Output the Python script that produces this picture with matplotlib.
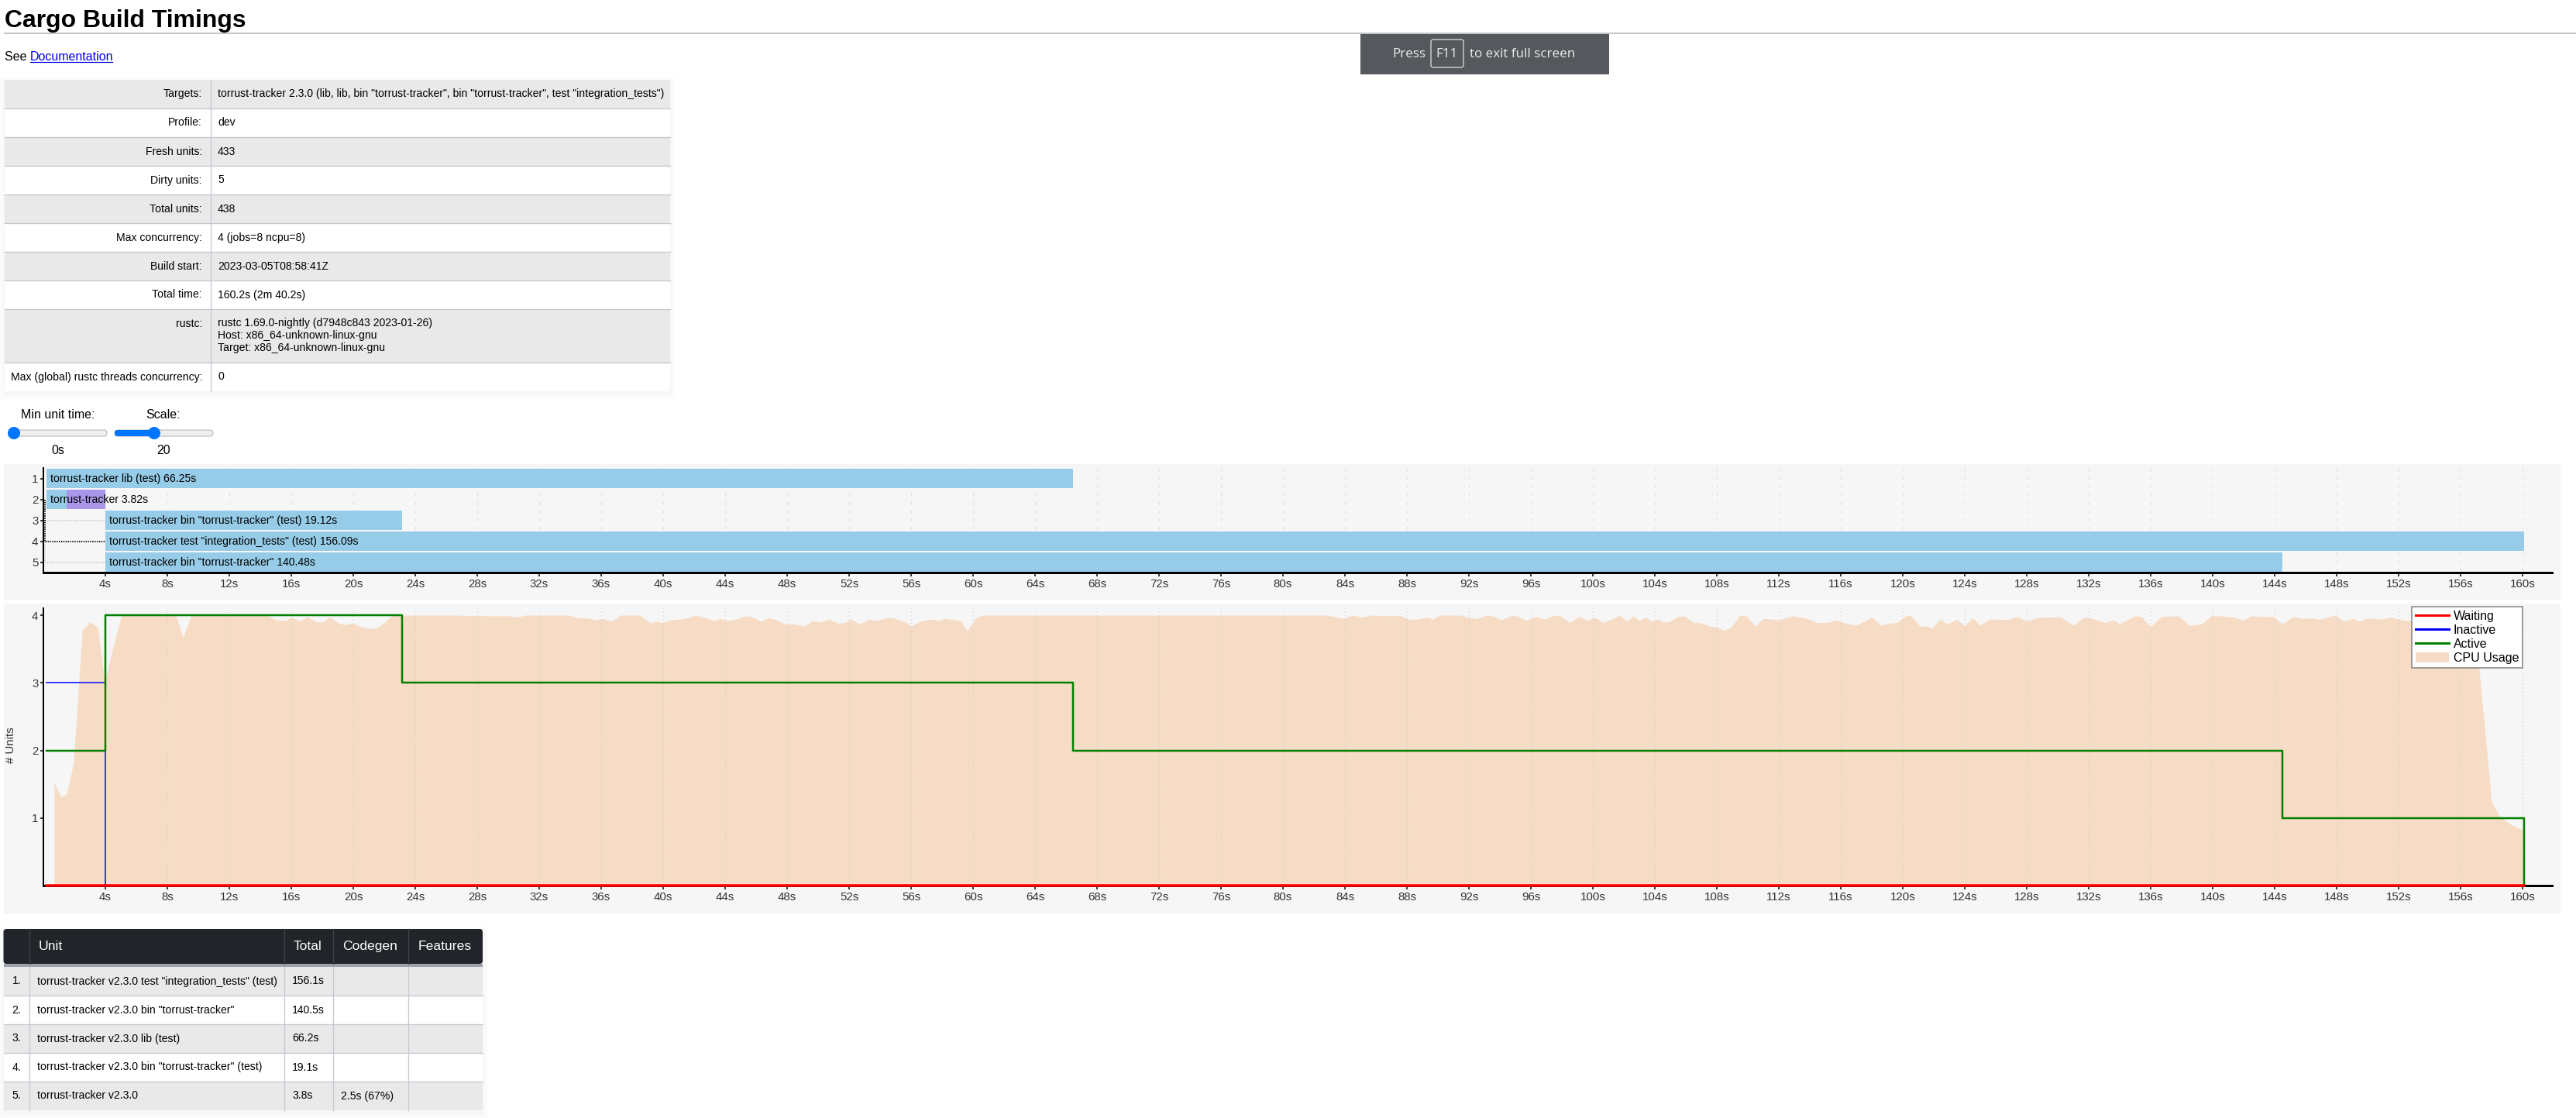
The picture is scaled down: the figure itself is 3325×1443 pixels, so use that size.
import matplotlib
matplotlib.use("Agg")
import matplotlib.pyplot as plt
from matplotlib.lines import Line2D
from matplotlib.patches import Circle, FancyBboxPatch, Patch, Rectangle

W, H = 3325, 1443
DPI = 100
PX = 72 / DPI  # points per pixel

plt.rcParams["font.family"] = ["Liberation Sans", "DejaVu Sans"]

# ---------------- data ----------------
info_labels = [
    "Targets:", "Profile:", "Fresh units:", "Dirty units:", "Total units:",
    "Max concurrency:", "Build start:", "Total time:", "rustc:",
    "Max (global) rustc threads concurrency:",
]
info_values = [
    'torrust-tracker 2.3.0 (lib, lib, bin "torrust-tracker", bin "torrust-tracker", test "integration_tests")',
    "dev", "433", "5", "438", "4 (jobs=8 ncpu=8)", "2023-03-05T08:58:41Z",
    "160.2s (2m 40.2s)",
    "rustc 1.69.0-nightly (d7948c843 2023-01-26)\nHost: x86_64-unknown-linux-gnu\nTarget: x86_64-unknown-linux-gnu",
    "0",
]

unit_names = [
    "torrust-tracker lib (test)",
    "torrust-tracker",
    'torrust-tracker bin "torrust-tracker" (test)',
    'torrust-tracker test "integration_tests" (test)',
    'torrust-tracker bin "torrust-tracker"',
]
unit_start = [0.2, 0.2, 4.02, 4.02, 4.02]
unit_duration = [66.25, 3.82, 19.12, 156.09, 140.48]
codegen_start = [None, 1.52, None, None, None]
dep_parent = 2
dep_children = [3, 4, 5]
dep_highlight = 4

active_t = [0.2, 4.02, 23.14, 66.45, 144.5, 160.11]
active_n = [2, 4, 3, 2, 1, 0]
inactive_t = [0.2, 4.02, 160.11]
inactive_n = [3, 0, 0]
waiting_t = [0.2, 160.11]
waiting_n = [0, 0]

cpu_t = [
    0.7, 1.13, 1.5, 1.94, 2.51, 3.0, 3.51, 3.95, 4.52, 5.04, 8.54, 9.02, 9.54,
    14.4, 15.0, 15.6, 16.0, 16.6, 17.0, 17.6, 18.0, 18.5, 19.0, 19.4, 20.0,
    20.5, 21.0, 21.5, 22.0, 22.5, 26.5, 28.8, 30.0, 30.6, 31.1, 33.9, 34.5,
    35.1, 35.7, 36.1, 36.7, 37.2, 38.5, 39.2, 39.5, 40.0, 40.5, 41.4, 42.1,
    43.3, 43.7, 44.1, 44.7, 45.3, 45.7, 46.3, 46.8, 47.3, 47.9, 48.5, 49.1,
    49.7, 50.1, 50.7, 51.3, 51.7, 52.1, 52.7, 53.3, 53.8, 54.4, 54.8, 55.6,
    56.0, 56.6, 57.2, 57.8, 58.2, 58.8, 59.2, 59.6, 60.2, 60.6, 82.7, 83.1,
    83.9, 84.5, 85.1, 85.7, 87.1, 87.5, 88.1, 88.7, 89.3, 89.7, 90.1, 91.5,
    91.9, 92.5, 93.1, 93.5, 94.1, 94.7, 95.1, 95.7, 96.3, 96.9, 97.5, 97.9,
    98.5, 99.1, 99.7, 100.1, 100.7, 101.3, 101.7, 102.2, 102.6, 103.0, 103.4,
    103.8, 104.2, 104.5, 104.9, 105.5, 105.9, 106.5, 106.9, 107.5, 108.0,
    108.5, 108.9, 109.5, 109.9, 110.5, 111.0, 111.6, 112.0, 112.9, 113.7,
    114.5, 115.1, 115.7, 116.2, 117.0, 118.0, 118.6, 119.1, 119.6, 120.2,
    120.5, 121.1, 121.5, 121.9, 122.4, 122.9, 123.5, 124.0, 124.5, 125.0,
    125.6, 126.1, 126.7, 127.4, 128.0, 128.6, 129.0, 130.2, 131.0, 131.7,
    132.1, 133.1, 133.6, 134.0, 135.0, 135.4, 136.0, 136.7, 137.8, 138.5,
    139.3, 139.9, 140.5, 141.3, 142.0, 142.5, 143.2, 143.9, 144.5, 145.2,
    145.8, 146.3, 146.9, 147.9, 148.5, 149.0, 149.5, 150.0, 150.9, 151.5,
    152.2, 152.7, 153.5, 154.3, 155.2, 156.0, 156.9, 157.2, 158.0, 158.5,
    159.2, 160.0,
]
cpu_units = [
    1.52, 1.31, 1.35, 1.81, 3.78, 3.9, 3.82, 3.0, 3.55, 4.0, 4.0, 3.67, 4.0,
    4.0, 3.93, 3.92, 3.97, 3.91, 3.98, 3.9, 3.9, 3.97, 3.89, 3.86, 3.88,
    3.83, 3.8, 3.81, 3.89, 4.0, 4.0, 3.99, 3.99, 3.97, 4.0, 4.0, 3.96,
    3.96, 3.93, 3.95, 3.91, 4.0, 4.0, 3.88, 3.91, 3.89, 3.93, 3.95, 4.0,
    3.92, 3.95, 3.92, 3.94, 3.99, 3.98, 3.91, 3.96, 3.93, 3.87, 3.87, 3.84,
    3.92, 3.9, 3.94, 3.88, 3.89, 3.94, 3.87, 3.94, 3.92, 3.96, 3.96, 3.9,
    3.84, 3.91, 3.94, 3.92, 3.95, 3.93, 3.92, 3.77, 3.96, 4.0, 4.0, 3.99,
    3.95, 4.0, 3.97, 4.0, 3.99, 4.0, 3.94, 3.94, 3.97, 3.94, 4.0, 4.0,
    3.97, 3.95, 4.0, 3.99, 3.93, 3.99, 3.99, 3.92, 3.98, 3.94, 4.0, 3.99,
    3.89, 3.98, 3.92, 3.97, 3.89, 3.95, 4.0, 3.91, 3.99, 3.92, 3.97,
    3.91, 3.94, 3.9, 3.9, 3.98, 3.99, 3.89, 3.89, 3.84, 3.82,
    3.78, 3.82, 4.0, 3.99, 3.84, 3.95, 3.94, 3.93, 3.99, 3.96,
    3.89, 3.89, 3.93, 3.89, 3.85, 3.97, 3.85, 3.88, 3.89, 3.99,
    4.0, 3.84, 3.84, 3.81, 3.94, 3.87, 3.94, 3.84, 3.96, 3.85,
    3.94, 3.94, 3.93, 3.98, 3.91, 3.96, 3.97, 3.97, 3.85, 3.97,
    3.96, 3.89, 3.93, 3.87, 3.99, 3.98, 3.83, 3.98, 3.99, 3.85,
    3.87, 3.99, 3.99, 3.97, 3.93, 3.99, 3.98, 3.98, 3.87, 3.98,
    3.95, 3.96, 3.94, 4.0, 3.91, 3.95, 3.91, 3.96, 3.94, 3.97,
    3.93, 3.92, 3.94, 3.91, 3.95, 3.92, 3.92, 3.2, 1.24, 1.03,
    0.91, 0.82,
]

rank_units = [
    'torrust-tracker v2.3.0 test "integration_tests" (test)',
    'torrust-tracker v2.3.0 bin "torrust-tracker"',
    "torrust-tracker v2.3.0 lib (test)",
    'torrust-tracker v2.3.0 bin "torrust-tracker" (test)',
    "torrust-tracker v2.3.0",
]
rank_total = ["156.1s", "140.5s", "66.2s", "19.1s", "3.8s"]
rank_codegen = ["", "", "", "", "2.5s (67%)"]
rank_features = ["", "", "", "", ""]
rank_headers = ["", "Unit", "Total", "Codegen", "Features"]

time_ticks = list(range(4, 161, 4))
X_MAX = 161.9

# ---------------- styles ----------------
PANEL = "#f6f6f6"
ROW_GRAY = "#e9e9e9"
BORDER = "#c6c6d4"
BAR = "#96cce8"
CODEGEN = "#aa96e8"
CPU = "#f7dcc5"
TXT = 14 * PX      # 14px body text
TICK = 15 * PX


def px_axes(x0, y0, x1, y1, **kw):
    return fig.add_axes([x0 / W, 1 - y1 / H, (x1 - x0) / W, (y1 - y0) / H], **kw)


def soft_shadow(x, y, w, h):
    for k in range(1, 9):
        page.add_patch(Rectangle((x - k, y - k + 4), w + 2 * k, h + 2 * k,
                                 fc="black", alpha=0.005, ec="none"))


fig = plt.figure(figsize=(W / DPI, H / DPI), dpi=DPI)
page = fig.add_axes([0, 0, 1, 1], zorder=0)
page.set_xlim(0, W)
page.set_ylim(H, 0)
page.axis("off")

# ---------------- header ----------------
page.text(6, 35, "Cargo Build Timings", fontsize=32 * PX, fontweight="bold",
          va="baseline", ha="left")
page.plot([6, W], [43, 43], color="#c4c4c4", lw=2 * PX)
page.text(6, 78, "See ", fontsize=16 * PX, va="baseline")
page.text(39, 78, "Documentation", fontsize=16 * PX, va="baseline",
          color="#0000ee")
page.plot([39, 145], [80, 80], color="#0000ee", lw=1.2 * PX)

# fullscreen notice
page.add_patch(Rectangle((1756, 43), 321, 53, fc="#55585c", ec="none"))
page.add_patch(FancyBboxPatch((1847, 51), 42, 36,
                              boxstyle="round,pad=0,rounding_size=3",
                              fc="none", ec="#e6e6e6", lw=1.2 * PX))
for x, s in [(1797, "Press"), (1853, "F11"), (1897, "to exit full screen")]:
    page.text(x, 70, s, fontsize=17 * PX, color="#ececec", va="center",
              family=["Open Sans", "DejaVu Sans"])

# ---------------- info table ----------------
row_h = [37] * len(info_labels)
row_h[8] = 69
tx0, tx1, tdiv = 6, 865, 271.5
ty = 103
soft_shadow(tx0, ty, tx1 - tx0, sum(row_h))
for i, (lab, val) in enumerate(zip(info_labels, info_values)):
    h = row_h[i]
    page.add_patch(Rectangle((tx0, ty), tx1 - tx0, h,
                             fc=ROW_GRAY if i % 2 == 0 else "white", ec="none"))
    if i > 0:
        page.plot([tx0, tx1], [ty, ty], color=BORDER, lw=1.3 * PX)
    page.text(261, ty + 18.5, lab, fontsize=TXT, ha="right", va="center")
    for j, line in enumerate(val.split("\n")):
        page.text(281, ty + 18.5 + 16 * j, line, fontsize=TXT, ha="left",
                  va="center")
    ty += h
page.plot([tdiv, tdiv], [103, ty], color=BORDER, lw=1.3 * PX)

# ---------------- sliders ----------------
for cx, lab, val in [(74.5, "Min unit time:", "0s"), (211, "Scale:", "20")]:
    page.text(cx, 535, lab, fontsize=16 * PX, ha="center", va="center")
    page.text(cx, 582, val, fontsize=16 * PX, ha="center", va="center")
for x0 in (11, 148):
    page.add_patch(FancyBboxPatch((x0, 555), 127, 8,
                                  boxstyle="round,pad=0,rounding_size=4",
                                  fc="#efefef", ec="#b3b3b3", lw=1 * PX))
page.add_patch(FancyBboxPatch((148, 555), 51, 8,
                              boxstyle="round,pad=0,rounding_size=4",
                              fc="#0075ff", ec="none"))
page.add_patch(Circle((18, 559), 8, fc="#0075ff", ec="none"))
page.add_patch(Circle((199, 559), 8, fc="#0075ff", ec="none"))

# ---------------- panels ----------------
page.add_patch(Rectangle((5, 599), 3300, 175, fc=PANEL, ec="none"))
page.add_patch(Rectangle((5, 779), 3300, 400, fc=PANEL, ec="none"))


def style_time_axis(ax):
    ax.set_xlim(0, X_MAX)
    ax.set_facecolor("none")
    for s in ("top", "right"):
        ax.spines[s].set_visible(False)
    ax.spines["left"].set_linewidth(2 * PX)
    ax.spines["bottom"].set_linewidth(3 * PX)
    ax.set_xticks(time_ticks)
    ax.set_xticklabels([f"{t}s" for t in time_ticks])
    ax.tick_params(axis="x", length=5 * PX, width=1.5 * PX, pad=2,
                   labelsize=TICK, labelcolor="#333333")
    ax.tick_params(axis="y", length=4 * PX, width=1.5 * PX, pad=2,
                   labelcolor="#333333")


# ---------------- unit gantt ----------------
ax_g = px_axes(56, 604, 56 + X_MAX * 20, 739, zorder=2)
style_time_axis(ax_g)
n_units = len(unit_names)
ax_g.set_ylim(n_units, 0)
ax_g.set_yticks([r + 0.5 for r in range(n_units)])
ax_g.set_yticklabels([str(r + 1) for r in range(n_units)])
ax_g.tick_params(axis="y", labelsize=15 * PX)
ax_g.vlines(time_ticks, 0, n_units, color="#e2e2e2", lw=1.2 * PX,
            linestyles=(0, (3, 6)), zorder=0)
for r, (name, st, dur, cg) in enumerate(zip(unit_names, unit_start,
                                            unit_duration, codegen_start)):
    yc = r + 0.5
    ax_g.barh(yc, dur, left=st, height=25 / 27, color=BAR, zorder=2)
    if cg is not None:
        ax_g.barh(yc, st + dur - cg, left=cg, height=25 / 27, color=CODEGEN,
                  zorder=2)
    ax_g.annotate(f"{name} {dur:.2f}s", (st, yc), xytext=(5 * PX, 0),
                  textcoords="offset points", va="center", ha="left",
                  fontsize=TXT, zorder=3)
dep_x = 0.08
for c in dep_children:
    hl = c == dep_highlight
    ax_g.plot([dep_x, dep_x, unit_start[c - 1]],
              [dep_parent - 0.5, c - 0.5, c - 0.5],
              color="black" if hl else "#cfcfcf", lw=1.8 * PX,
              ls=(0, (0.8, 0.8)), zorder=1.5 if hl else 1, clip_on=False)

# ---------------- concurrency ----------------
Y_TOP = (1143 - 785) / 87.25
ax_c = px_axes(56, 785, 56 + X_MAX * 20, 1143, zorder=2)
style_time_axis(ax_c)
ax_c.set_ylim(0, Y_TOP)
ax_c.set_yticks([1, 2, 3, 4])
ax_c.tick_params(axis="y", labelsize=TICK)
ax_c.fill_between(cpu_t, cpu_units, 0, color=CPU, lw=0, zorder=1)
ax_c.vlines(time_ticks, 0, Y_TOP, color="#c8c8c8", alpha=0.6, lw=1.4 * PX,
            linestyles=(0, (1, 2.5)), zorder=1.5)
ax_c.step(inactive_t, inactive_n, where="post", color="#0000ff", lw=1.5 * PX,
          zorder=3, clip_on=False)
ax_c.step(active_t, active_n, where="post", color="#008000", lw=2.5 * PX,
          zorder=4, clip_on=False)
ax_c.step(waiting_t, waiting_n, where="post", color="#ff0000", lw=3.5 * PX,
          zorder=5, clip_on=False)
page.text(14, 962, "# Units", rotation=90, fontsize=TICK, ha="center",
          va="center", color="#333333")

handles = [
    Line2D([], [], color="#ff0000", lw=3 * PX),
    Line2D([], [], color="#0000ff", lw=3 * PX),
    Line2D([], [], color="#008000", lw=3 * PX),
    Patch(fc=CPU, ec="none"),
]
leg = ax_c.legend(handles, ["Waiting", "Inactive", "Active", "CPU Usage"],
                  loc="upper right", bbox_to_anchor=(3256 / W, 1 - 783 / H),
                  bbox_transform=fig.transFigure, borderaxespad=0,
                  fontsize=16 * PX, frameon=True, fancybox=False,
                  edgecolor="#808080", framealpha=1, handlelength=2.7,
                  handleheight=0.85, labelspacing=0.2, borderpad=0.3,
                  handletextpad=0.35)
leg.get_frame().set_linewidth(1.5 * PX)
leg.set_zorder(10)

# ---------------- unit ranking table ----------------
cols = [4.5, 37.5, 366.5, 429.5, 527, 623]
hy0, hy1 = 1199, 1244
rh = 37
n_rows = len(rank_units)
by = 1248 + rh * n_rows
soft_shadow(cols[0], hy0, cols[-1] - cols[0], by - hy0)
page.add_patch(FancyBboxPatch((cols[0], hy0), cols[-1] - cols[0], hy1 - hy0,
                              boxstyle="round,pad=0,rounding_size=4",
                              fc="#212529", ec="none"))
page.add_patch(Rectangle((cols[0], hy1), cols[-1] - cols[0], 4,
                         fc="#9da3a9", ec="none"))
for i in range(n_rows):
    y0 = 1248 + rh * i
    page.add_patch(Rectangle((cols[0], y0), cols[-1] - cols[0], rh,
                             fc=ROW_GRAY if i % 2 == 0 else "white", ec="none"))
    if i > 0:
        page.plot([cols[0], cols[-1]], [y0, y0], color=BORDER, lw=1.3 * PX)
    cells = [f"{i + 1}.", rank_units[i], rank_total[i], rank_codegen[i],
             rank_features[i]]
    for j, s in enumerate(cells):
        pad = 11 if j == 0 else 10.5
        page.text(cols[j] + pad, y0 + rh / 2, s, fontsize=TXT, ha="left",
                  va="center")
for j, s in enumerate(rank_headers):
    page.text(cols[j] + 12.5, (hy0 + hy1) / 2, s, fontsize=17.5 * PX,
              color="white", ha="left", va="center")
for x in cols[1:-1]:
    page.plot([x, x], [hy0, hy1], color="#3d4349", lw=1.3 * PX)
    page.plot([x, x], [1248, by], color=BORDER, lw=1.3 * PX)

fig.savefig("out.png", dpi=DPI)
